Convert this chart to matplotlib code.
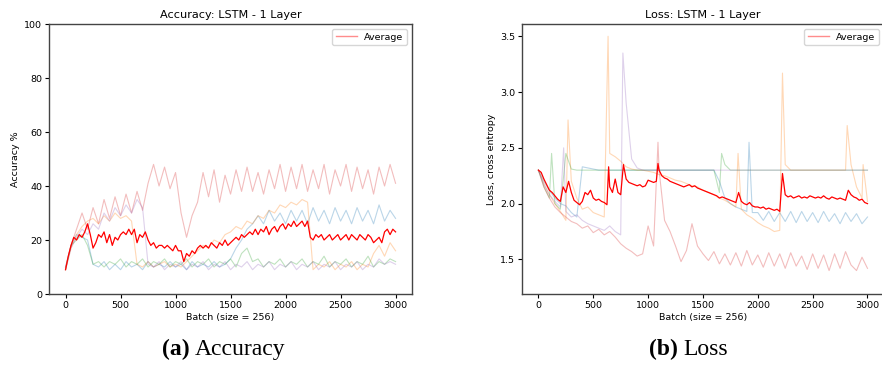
import numpy as np
import matplotlib
matplotlib.use("Agg")
from matplotlib import pyplot as plt
from matplotlib.lines import Line2D

# --- datos (cada 50 batches para las corridas, cada 25 para el promedio) ---
STEP_RUN = 50
STEP_AVG = 25

# Accuracy (%)
acc_red = [10, 18, 24, 30, 24, 32, 26, 35, 28, 36,
           29, 37, 30, 38, 31, 41, 48, 40, 47, 39,
           45, 30, 21, 29, 34, 45, 36, 46, 34, 44,
           37, 46, 38, 47, 38, 45, 37, 46, 39, 48,
           38, 47, 39, 48, 38, 46, 39, 48, 37, 46,
           40, 48, 38, 47, 39, 46, 37, 47, 40, 48,
           41]
acc_blue = [10, 18, 22, 21, 20, 11, 10, 12, 9, 11,
            9, 12, 10, 11, 9, 12, 10, 11, 10, 12,
            10, 11, 9, 12, 10, 11, 10, 12, 10, 11,
            13, 17, 20, 24, 26, 29, 26, 31, 27, 30,
            26, 31, 27, 31, 26, 32, 27, 31, 26, 32,
            27, 31, 26, 32, 27, 31, 26, 33, 27, 31,
            28]
acc_orange = [9, 17, 22, 25, 27, 28, 26, 29, 27, 30,
              28, 29, 27, 11, 10, 12, 10, 11, 12, 10,
              11, 10, 12, 14, 16, 18, 17, 20, 19, 22,
              23, 25, 24, 27, 26, 29, 28, 31, 30, 33,
              32, 34, 33, 35, 34, 9, 11, 10, 12, 9,
              11, 10, 12, 9, 11, 10, 15, 18, 14, 19,
              16]
acc_green = [9, 18, 20, 22, 18, 11, 12, 10, 12, 11,
             13, 10, 12, 11, 13, 10, 12, 11, 13, 10,
             12, 11, 13, 10, 12, 11, 13, 10, 12, 11,
             13, 10, 15, 17, 12, 13, 10, 12, 11, 13,
             10, 12, 11, 13, 10, 12, 11, 14, 10, 12,
             11, 13, 10, 12, 11, 14, 10, 12, 11, 13,
             12]
acc_purple = [9, 17, 21, 24, 22, 26, 24, 30, 27, 32,
              29, 33, 30, 35, 32, 11, 10, 12, 9, 11,
              10, 12, 9, 11, 10, 12, 9, 11, 10, 12,
              9, 11, 10, 12, 9, 11, 10, 12, 9, 11,
              10, 12, 9, 11, 10, 12, 9, 11, 10, 12,
              9, 11, 10, 12, 9, 11, 10, 13, 11, 12,
              11]
acc_avg = [9, 14, 18, 21, 20, 22, 21, 23, 26, 22, 17, 19, 22, 21, 23, 19, 22, 18, 21, 20,
           22, 23, 22, 24, 22, 24, 19, 22, 21, 23, 20, 18, 19, 17, 18, 18, 17, 18, 17, 16,
           18, 16, 16, 12, 15, 14, 16, 15, 17, 18, 17, 18, 17, 19, 18, 17, 19, 18, 20, 18,
           19, 20, 21, 20, 22, 21, 22, 23, 22, 24, 22, 24, 23, 25, 22, 24, 25, 23, 25, 26,
           24, 26, 25, 27, 25, 26, 27, 25, 27, 21, 20, 22, 21, 22, 20, 21, 22, 20, 21, 22,
           20, 21, 22, 20, 22, 21, 20, 22, 21, 20, 22, 21, 19, 20, 21, 19, 23, 24, 22, 24,
           23]

# Loss (cross entropy)
loss_red = [2.30, 2.15, 2.05, 1.97, 1.92, 1.88, 1.84, 1.82, 1.78, 1.80,
            1.74, 1.77, 1.72, 1.75, 1.70, 1.64, 1.60, 1.57, 1.53, 1.55,
            1.80, 1.62, 2.30, 1.85, 1.75, 1.62, 1.48, 1.58, 1.82, 1.62,
            1.55, 1.49, 1.57, 1.46, 1.55, 1.45, 1.56, 1.44, 1.58, 1.45,
            1.54, 1.43, 1.56, 1.44, 1.55, 1.42, 1.56, 1.44, 1.53, 1.41,
            1.55, 1.42, 1.54, 1.40, 1.55, 1.42, 1.57, 1.45, 1.40, 1.52,
            1.42]
loss_red_spk_x = [1090]
loss_red_spk_y = [2.55]

loss_blue = [2.30, 2.20, 2.12, 2.05, 2.00, 1.98, 1.92, 1.88, 2.33, 2.32,
             2.31, 2.30, 2.30, 2.30, 2.30, 2.30, 2.30, 2.30, 2.30, 2.30,
             2.30, 2.30, 2.30, 2.30, 2.30, 2.30, 2.30, 2.30, 2.30, 2.30,
             2.30, 2.30, 2.30, 2.20, 2.05, 2.00, 1.97, 1.95, 1.93, 1.92,
             1.92, 1.85, 1.93, 1.84, 1.92, 1.84, 1.93, 1.83, 1.93, 1.84,
             1.92, 1.83, 1.93, 1.84, 1.91, 1.82, 1.92, 1.84, 1.91, 1.82,
             1.88]
loss_blue_spk_x = [1920]
loss_blue_spk_y = [2.55]

loss_orange = [2.30, 2.18, 2.08, 2.00, 1.93, 1.85, 2.20, 2.05, 1.95, 1.97,
               1.92, 1.90, 1.88, 2.45, 2.42, 2.38, 2.33, 2.31, 2.30, 2.30,
               2.29, 2.28, 2.26, 2.25, 2.23, 2.21, 2.20, 2.18, 2.16, 2.15,
               2.12, 2.10, 2.08, 2.05, 2.03, 2.00, 1.97, 1.95, 1.90, 1.87,
               1.83, 1.80, 1.78, 1.75, 1.76, 2.35, 2.30, 2.30, 2.30, 2.30,
               2.30, 2.30, 2.30, 2.30, 2.30, 2.30, 2.30, 2.35, 2.15, 2.05,
               2.02]
loss_orange_spk_x = [270, 635, 1820, 2225, 2815, 2960]
loss_orange_spk_y = [2.75, 3.50, 2.45, 3.17, 2.70, 2.35]

loss_green = ([2.30, 2.15, 2.05, 2.00, 1.95, 2.45, 2.31, 2.30, 2.30, 2.30]
              + [2.30] * 20
              + [2.30, 2.30, 2.30, 2.10, 2.35, 2.30, 2.30, 2.30, 2.30, 2.30]
              + [2.30] * 21)
loss_green_spk_x = [120, 1670]
loss_green_spk_y = [2.45, 2.45]

loss_purple = ([2.30, 2.17, 2.08, 2.02, 1.97, 1.93, 1.88, 1.90, 1.85, 1.82,
                1.80, 1.78, 1.76, 1.80, 1.75, 1.72, 2.90, 2.40, 2.32, 2.30]
               + [2.30] * 41)
loss_purple_spk_x = [230, 770]
loss_purple_spk_y = [2.50, 3.35]

loss_avg = [2.30, 2.28, 2.22, 2.17, 2.12, 2.10, 2.07, 2.04, 2.02, 2.15, 2.10, 2.20, 2.10, 2.03, 2.01, 1.99, 2.02, 2.10, 2.08, 2.12,
            2.05, 2.03, 2.04, 2.02, 2.01, 1.99, 2.15, 2.10, 2.22, 2.10, 2.08, 2.35, 2.22, 2.19, 2.18, 2.17, 2.16, 2.17, 2.15, 2.16,
            2.21, 2.20, 2.19, 2.20, 2.30, 2.25, 2.23, 2.22, 2.20, 2.19, 2.18, 2.17, 2.16, 2.15, 2.16, 2.17, 2.15, 2.16, 2.14, 2.13,
            2.12, 2.11, 2.10, 2.09, 2.08, 2.07, 2.05, 2.06, 2.05, 2.04, 2.03, 2.02, 2.01, 2.10, 2.02, 2.00, 1.99, 2.01, 1.98, 1.97,
            1.97, 1.96, 1.97, 1.95, 1.96, 1.95, 1.94, 1.95, 1.93, 2.27, 2.08, 2.06, 2.07, 2.05, 2.06, 2.07, 2.05, 2.06, 2.05, 2.07,
            2.06, 2.05, 2.06, 2.05, 2.07, 2.05, 2.04, 2.06, 2.05, 2.04, 2.05, 2.04, 2.03, 2.12, 2.08, 2.06, 2.05, 2.03, 2.04, 2.01,
            2.00]
loss_avg_spk_x = [640, 1090]
loss_avg_spk_y = [2.33, 2.36]

RUN_COLORS = ["tab:blue", "tab:orange", "tab:green", "tab:red", "tab:purple"]


def junta(ys, step, ex=(), ey=()):
    # mezcla la serie regular con los picos sueltos, ordenado por batch
    xs = np.arange(len(ys)) * step
    x = np.concatenate([xs, np.asarray(ex, dtype=float)])
    y = np.concatenate([np.asarray(ys, dtype=float), np.asarray(ey, dtype=float)])
    o = np.argsort(x, kind="stable")
    return x[o], y[o]


def dibuja(ax, runs, avg, titulo, ylabel):
    for (ys, ex, ey), c in zip(runs, RUN_COLORS):
        x, y = junta(ys, STEP_RUN, ex, ey)
        ax.plot(x, y, color=c, lw=0.8, alpha=0.3)
    x, y = junta(*avg)
    ax.plot(x, y, color="red", lw=0.9)
    ax.set_title(titulo, fontsize=8.1, pad=4.5)
    ax.set_xlabel("Batch (size = 256)", fontsize=6.8, labelpad=2.5)
    ax.set_ylabel(ylabel, fontsize=6.8, labelpad=3)
    ax.tick_params(labelsize=6.8, length=3, width=0.8, pad=2)
    ax.set_xlim(-150, 3150)
    ax.set_xticks([0, 500, 1000, 1500, 2000, 2500, 3000])
    for s in ax.spines.values():
        s.set_color("#444444")
        s.set_linewidth(1.0)
    h = Line2D([], [], color="red", lw=1.0, alpha=0.45)
    ax.legend([h], ["Average"], loc="upper right", fontsize=6.8,
              handlelength=2.2, borderpad=0.4, framealpha=0.8)


fig = plt.figure(figsize=(8.82, 3.75), dpi=100)
ax1 = fig.add_axes([0.0556, 0.216, 0.4116, 0.72])
ax2 = fig.add_axes([0.5918, 0.216, 0.4104, 0.72])

acc_runs = [(acc_blue, [], []), (acc_orange, [], []), (acc_green, [], []),
            (acc_red, [], []), (acc_purple, [], [])]
dibuja(ax1, acc_runs, (acc_avg, STEP_AVG), "Accuracy: LSTM - 1 Layer", "Accuracy %")
ax1.set_ylim(0, 100)

loss_runs = [(loss_blue, loss_blue_spk_x, loss_blue_spk_y),
             (loss_orange, loss_orange_spk_x, loss_orange_spk_y),
             (loss_green, loss_green_spk_x, loss_green_spk_y),
             (loss_red, loss_red_spk_x, loss_red_spk_y),
             (loss_purple, loss_purple_spk_x, loss_purple_spk_y)]
dibuja(ax2, loss_runs, (loss_avg, STEP_AVG, loss_avg_spk_x, loss_avg_spk_y),
       "Loss: LSTM - 1 Layer", "Loss, cross entropy")
ax2.set_ylim(1.19, 3.61)
ax2.set_yticks([1.5, 2.0, 2.5, 3.0, 3.5])

# pies de figura estilo articulo
serif = ["Liberation Serif", "DejaVu Serif"]
fig.text(190 / 882, 0.053, "(a)", fontsize=17, fontweight="bold", family=serif,
         ha="right", va="baseline")
fig.text(195 / 882, 0.053, "Accuracy", fontsize=17, family=serif,
         ha="left", va="baseline")
fig.text(678 / 882, 0.053, "(b)", fontsize=17, fontweight="bold", family=serif,
         ha="right", va="baseline")
fig.text(683 / 882, 0.053, "Loss", fontsize=17, family=serif,
         ha="left", va="baseline")

fig.savefig("out.png", dpi=100)
